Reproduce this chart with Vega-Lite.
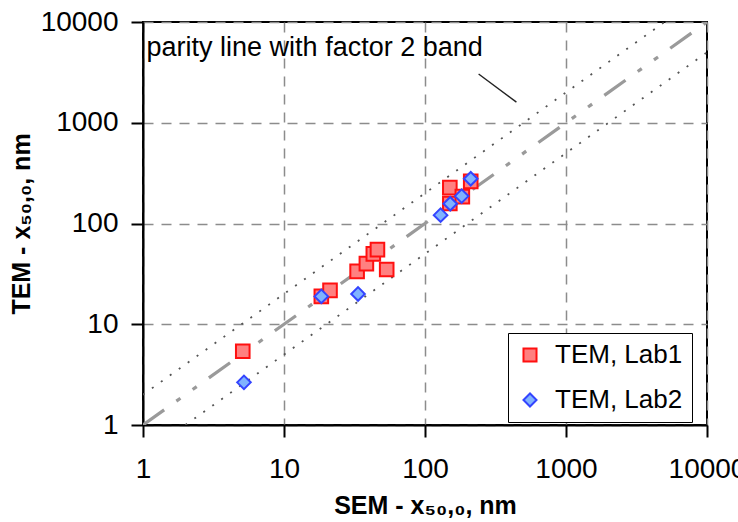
{
  "$schema": "https://vega.github.io/schema/vega-lite/v6.json",
  "width": 564,
  "height": 403,
  "autosize": {"type": "none"},
  "padding": {"left": 143, "top": 22, "right": 31, "bottom": 97},
  "background": "white",
  "config": {
    "font": "Liberation Sans, Arial, sans-serif",
    "view": {"stroke": "black", "strokeWidth": 2},
    "axis": {
      "labelFont": "Liberation Sans, Arial, sans-serif",
      "labelFontSize": 28,
      "labelColor": "black",
      "labelFlush": false,
      "labelOverlap": false,
      "titleFont": "Liberation Sans, Arial, sans-serif",
      "titleFontSize": 25,
      "titleFontWeight": "bold",
      "titleColor": "black",
      "domainColor": "black",
      "domainWidth": 2,
      "tickColor": "black",
      "tickWidth": 2,
      "tickSize": 12,
      "gridColor": "#8c8c8c",
      "gridDash": [10, 8],
      "gridWidth": 1.5
    }
  },
  "datasets": {
    "points": [
      {"sem": 5.1, "tem": 5.4, "series": "TEM, Lab1"},
      {"sem": 18.4, "tem": 18.9, "series": "TEM, Lab1"},
      {"sem": 21.2, "tem": 21.7, "series": "TEM, Lab1"},
      {"sem": 33, "tem": 33.5, "series": "TEM, Lab1"},
      {"sem": 38.4, "tem": 40, "series": "TEM, Lab1"},
      {"sem": 43, "tem": 50, "series": "TEM, Lab1"},
      {"sem": 46, "tem": 55, "series": "TEM, Lab1"},
      {"sem": 53.5, "tem": 35, "series": "TEM, Lab1"},
      {"sem": 150, "tem": 227, "series": "TEM, Lab1"},
      {"sem": 150, "tem": 158, "series": "TEM, Lab1"},
      {"sem": 184, "tem": 185, "series": "TEM, Lab1"},
      {"sem": 211, "tem": 262, "series": "TEM, Lab1"},
      {"sem": 5.2, "tem": 2.65, "series": "TEM, Lab2"},
      {"sem": 18.4, "tem": 18.9, "series": "TEM, Lab2"},
      {"sem": 33.5, "tem": 20, "series": "TEM, Lab2"},
      {"sem": 129, "tem": 121, "series": "TEM, Lab2"},
      {"sem": 151, "tem": 157, "series": "TEM, Lab2"},
      {"sem": 182, "tem": 187, "series": "TEM, Lab2"},
      {"sem": 211, "tem": 278, "series": "TEM, Lab2"}
    ],
    "band": [
      {"sem": 1, "tem": 2, "edge": "upper"},
      {"sem": 5000, "tem": 10000, "edge": "upper"},
      {"sem": 2, "tem": 1, "edge": "lower"},
      {"sem": 10000, "tem": 5000, "edge": "lower"}
    ],
    "parity": [
      {"sem": 1, "tem": 1},
      {"sem": 10000, "tem": 10000}
    ],
    "pointer": [
      {"sem": 240, "tem": 3050},
      {"sem": 445, "tem": 1600}
    ],
    "note": [
      {"sem": 1.06, "tem": 5500, "text": "parity line with factor 2 band"}
    ]
  },
  "encoding": {
    "x": {
      "field": "sem",
      "type": "quantitative",
      "scale": {"type": "log", "domain": [1, 10000], "nice": false},
      "axis": {
        "values": [1, 10, 100, 1000, 10000],
        "format": "d",
        "title": "SEM - x₅₀,₀, nm",
        "labelPadding": 18,
        "titlePadding": 10
      }
    },
    "y": {
      "field": "tem",
      "type": "quantitative",
      "scale": {"type": "log", "domain": [1, 10000], "nice": false},
      "axis": {
        "values": [1, 10, 100, 1000, 10000],
        "format": "d",
        "title": "TEM - x₅₀,₀, nm",
        "labelPadding": 13,
        "titlePadding": 6
      }
    }
  },
  "layer": [
    {
      "data": {"name": "band"},
      "mark": {"type": "line", "color": "#555555", "strokeWidth": 1.8, "strokeDash": [2, 9], "clip": true},
      "encoding": {"detail": {"field": "edge"}}
    },
    {
      "data": {"name": "parity"},
      "mark": {"type": "line", "color": "#9a9a9a", "strokeWidth": 3.2, "strokeDash": [26, 15, 5, 15, 5, 15], "clip": true}
    },
    {
      "data": {"name": "pointer"},
      "mark": {"type": "line", "color": "#222222", "strokeWidth": 1.4}
    },
    {
      "data": {"name": "note"},
      "mark": {"type": "text", "align": "left", "baseline": "middle", "fontSize": 27, "color": "black"},
      "encoding": {"text": {"field": "text"}}
    },
    {
      "data": {"name": "points"},
      "mark": {"type": "point", "filled": false, "size": 185, "strokeWidth": 2, "opacity": 1},
      "encoding": {
        "shape": {
          "field": "series",
          "type": "nominal",
          "scale": {"domain": ["TEM, Lab1", "TEM, Lab2"], "range": ["square", "diamond"]},
          "legend": {
            "title": null,
            "orient": "none",
            "legendX": 365,
            "legendY": 311,
            "fillColor": "white",
            "strokeColor": "black",
            "padding": 9,
            "labelFontSize": 26,
            "labelColor": "black",
            "labelFont": "Liberation Sans, Arial, sans-serif",
            "symbolSize": 170,
            "symbolStrokeWidth": 2,
            "rowPadding": 19,
            "labelOffset": 12
          }
        },
        "fill": {
          "field": "series",
          "type": "nominal",
          "scale": {"domain": ["TEM, Lab1", "TEM, Lab2"], "range": ["#ff8080", "#80b3ff"]}
        },
        "stroke": {
          "field": "series",
          "type": "nominal",
          "scale": {"domain": ["TEM, Lab1", "TEM, Lab2"], "range": ["#ff1010", "#3344ff"]}
        }
      }
    }
  ]
}
